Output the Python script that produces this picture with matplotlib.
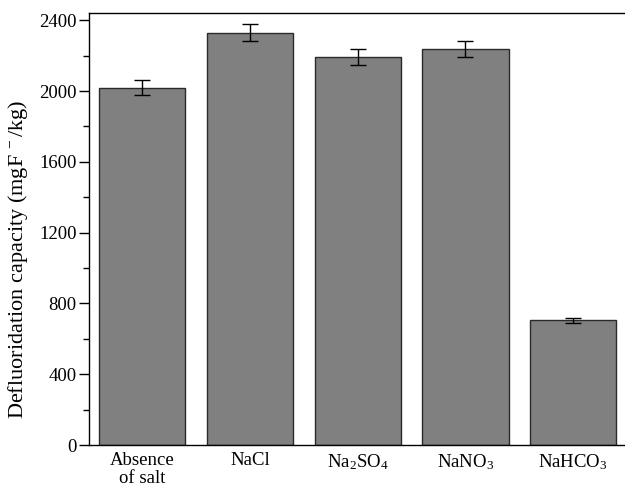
import numpy as np
import matplotlib
matplotlib.use("Agg")
import matplotlib.pyplot as plt
from matplotlib.ticker import MultipleLocator

plt.rcParams['font.family'] = ['Liberation Serif', 'DejaVu Serif']
plt.rcParams['mathtext.fontset'] = 'custom'
plt.rcParams['mathtext.rm'] = 'Liberation Serif'

# data
salts = ["Absence\nof salt", "NaCl", r"Na$\mathregular{_2}$SO$\mathregular{_4}$",
         r"NaNO$\mathregular{_3}$", r"NaHCO$\mathregular{_3}$"]
capacity = [2020, 2330, 2192, 2237, 704]
errors = [45, 47, 45, 45, 14]

fig = plt.figure(figsize=(6.25, 4.88), dpi=100)
ax = fig.add_axes([0.143, 0.088, 0.857, 0.885])

x = np.arange(len(salts))
ax.bar(x, capacity, width=0.8, color='#808080', edgecolor='#2a2a2a', linewidth=1.0,
       yerr=errors, capsize=6, error_kw=dict(ecolor='black', elinewidth=1.0, capthick=1.0))

ax.set_xlim(-0.49, 4.48)
ax.set_ylim(0, 2440)
ax.set_xticks(x)
ax.set_xticklabels(salts, fontsize=13.5, linespacing=1.1)
ax.tick_params(axis='x', length=0, pad=5)
ax.yaxis.set_major_locator(MultipleLocator(400))
ax.yaxis.set_minor_locator(MultipleLocator(200))
ax.tick_params(axis='y', which='major', length=7, width=1, labelsize=13.5, pad=2, direction='out')
ax.tick_params(axis='y', which='minor', length=4, width=1, direction='out')
ax.spines['right'].set_visible(False)
for s in ['left', 'top', 'bottom']:
    ax.spines[s].set_linewidth(1.0)
ax.set_ylabel(r"Defluoridation capacity (mgF$\mathregular{^{\,-}}$/kg)", fontsize=16)
ax.yaxis.set_label_coords(-0.11, 0.43)

fig.savefig("out.png", dpi=100)
